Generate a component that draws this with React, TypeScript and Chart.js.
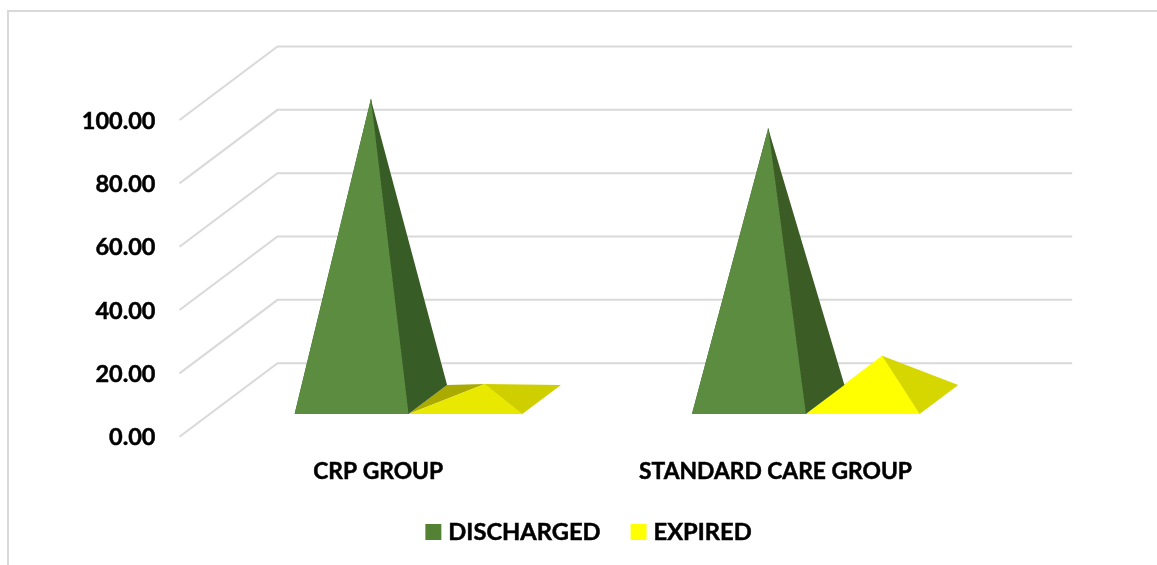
import React, { useEffect, useRef } from "react";
import { Chart, registerables, BarController } from "chart.js";

Chart.register(...registerables);

const categories = ["CRP GROUP", "STANDARD CARE GROUP"];
const discharged = [94.8, 85.6];
const expired = [4.9, 13.8];
const yTicks = [0, 20, 40, 60, 80, 100];

const greenSwatch = "#548235";
const yellowSwatch = "#FFFF00";
const dischargedFront = ["#5B8C3F", "#5B8C3F"];
const dischargedRight = ["#375C25", "#3C5C26"];
const dischargedLeft = ["#375C25", "#3C5C26"];
const expiredFront = ["#E8E800", "#FFFF00"];
const expiredRight = ["#CFCF00", "#D6D600"];
const expiredLeft = ["#AAAA00", "#D6D600"];

// Oblique projection of the floor: full depth moves a point right and up.
const DEPTH_X = 98;
const DEPTH_Y = 73.5;
const BASE_FRONT = 0.309;
const BASE_BACK = 0.703;
const GRID = "#D9D9D9";
const FONT = "Lato";
const TICK_FONT = { family: FONT, size: 23.5, weight: "bold" };

class PyramidController extends BarController {
  static id = "pyramid";
  static defaults = BarController.defaults;
  static overrides = BarController.overrides;

  draw() {
    const ctx = this.chart.ctx;
    const ds: any = this.getDataset();
    const at = (x: number, y: number, d: number): [number, number] => [x + d * DEPTH_X, y - d * DEPTH_Y];
    const face = (color: string, pts: [number, number][]) => {
      ctx.beginPath();
      pts.forEach((p, i) => (i ? ctx.lineTo(p[0], p[1]) : ctx.moveTo(p[0], p[1])));
      ctx.closePath();
      ctx.fillStyle = color;
      ctx.fill();
    };
    // Runs a side face's colour under the edge it shares with the front face, closing the seam.
    const seam = (color: string, a: [number, number], b: [number, number]) => {
      ctx.beginPath();
      ctx.moveTo(a[0], a[1]);
      ctx.lineTo(b[0], b[1]);
      ctx.strokeStyle = color;
      ctx.lineWidth = 1;
      ctx.stroke();
    };
    this._cachedMeta.data.forEach((el: any, i: number) => {
      const l = el.x - el.width / 2;
      const r = el.x + el.width / 2;
      const fl = at(l, el.base, BASE_FRONT);
      const fr = at(r, el.base, BASE_FRONT);
      const bl = at(l, el.base, BASE_BACK);
      const br = at(r, el.base, BASE_BACK);
      const apex = at(el.x, el.y, (BASE_FRONT + BASE_BACK) / 2);
      face(ds.faceLeft[i], [fl, bl, apex]);
      face(ds.faceRight[i], [fr, br, apex]);
      seam(ds.faceRight[i], fr, apex);
      face(ds.faceFront[i], [fl, fr, apex]);
    });
  }
}
Chart.register(PyramidController);

// Page frame and the receding wall and floor grid lines.
const wallsPlugin = {
  id: "walls",
  beforeDraw(chart: any) {
    const { ctx, width, height } = chart;
    ctx.save();
    ctx.fillStyle = GRID;
    ctx.fillRect(7, 10, 2, height - 10);
    ctx.fillRect(7, 10, width - 7, 2);
    ctx.restore();
  },
  beforeDatasetsDraw(chart: any) {
    const { ctx, chartArea, scales } = chart;
    ctx.save();
    ctx.strokeStyle = GRID;
    ctx.lineWidth = 2;
    yTicks.forEach((v) => {
      const y = scales.y.getPixelForValue(v);
      ctx.beginPath();
      ctx.moveTo(chartArea.left, y);
      ctx.lineTo(chartArea.left + DEPTH_X, y - DEPTH_Y);
      ctx.lineTo(chartArea.right + DEPTH_X, y - DEPTH_Y);
      ctx.stroke();
    });
    ctx.restore();
  },
};

// Legend row centred under the whole plot, depth included, with a tight swatch gap.
const legendRowPlugin = {
  id: "legendRow",
  afterDraw(chart: any) {
    const { ctx } = chart;
    const swatch = 16;
    const gap = 7;
    const between = 30;
    const items = chart.data.datasets.map((d: any) => ({ text: d.label, color: d.backgroundColor }));
    ctx.save();
    ctx.font = `bold 23.7px ${FONT}`;
    ctx.textBaseline = "middle";
    ctx.textAlign = "left";
    const total =
      items.reduce((sum: number, it: any) => sum + swatch + gap + ctx.measureText(it.text).width, 0) +
      between * (items.length - 1);
    let x = 588.5 - total / 2;
    items.forEach((it: any) => {
      ctx.fillStyle = it.color;
      ctx.fillRect(x, 524, swatch, swatch);
      x += swatch + gap;
      ctx.fillStyle = "#000";
      ctx.strokeStyle = "#000";
      ctx.lineWidth = 0.5;
      ctx.fillText(it.text, x, 532);
      ctx.strokeText(it.text, x, 532);
      x += ctx.measureText(it.text).width + between;
    });
    ctx.restore();
  },
};

export default function App() {
  const ref = useRef<HTMLCanvasElement>(null);
  useEffect(() => {
    const chart = new Chart(ref.current!, {
      type: "pyramid" as any,
      data: {
        labels: categories,
        datasets: [
          {
            label: "DISCHARGED",
            data: discharged,
            backgroundColor: greenSwatch,
            faceFront: dischargedFront,
            faceRight: dischargedRight,
            faceLeft: dischargedLeft,
            clip: false,
          } as any,
          {
            label: "EXPIRED",
            data: expired,
            backgroundColor: yellowSwatch,
            faceFront: expiredFront,
            faceRight: expiredRight,
            faceLeft: expiredLeft,
            clip: false,
          } as any,
        ],
      },
      options: {
        responsive: false,
        animation: false,
        categoryPercentage: 0.573,
        barPercentage: 1,
        layout: { padding: { top: 120, right: 182.8, left: 0, bottom: 0 } },
        plugins: {
          tooltip: { enabled: false },
          legend: { display: false },
        },
        scales: {
          x: {
            grid: { display: false },
            border: { display: false },
            afterFit: (s: any) => {
              s.height = 128.3;
            },
            ticks: {
              color: "#000",
              padding: 13,
              maxRotation: 0,
              font: { ...TICK_FONT, size: 22.8 },
              textStrokeColor: "#000",
              textStrokeWidth: 0.5,
            },
          },
          y: {
            min: 0,
            max: 100,
            grid: { display: false, drawTicks: false },
            border: { display: false },
            afterFit: (s: any) => {
              s.width = 179.5;
            },
            afterBuildTicks: (s: any) => {
              s.ticks = yTicks.map((value) => ({ value }));
            },
            ticks: {
              color: "#000",
              padding: 24,
              labelOffset: 1,
              font: TICK_FONT,
              textStrokeColor: "#000",
              textStrokeWidth: 0.5,
              callback: (v: any) => Number(v).toFixed(2),
            },
          },
        },
      } as any,
      plugins: [wallsPlugin, legendRowPlugin],
    });
    return () => chart.destroy();
  }, []);
  return (
    <div style={{ position: "fixed", left: 0, top: 0, width: 1157, height: 565, background: "#fff" }}>
      <canvas ref={ref} width={1157} height={565} style={{ display: "block" }} />
    </div>
  );
}
